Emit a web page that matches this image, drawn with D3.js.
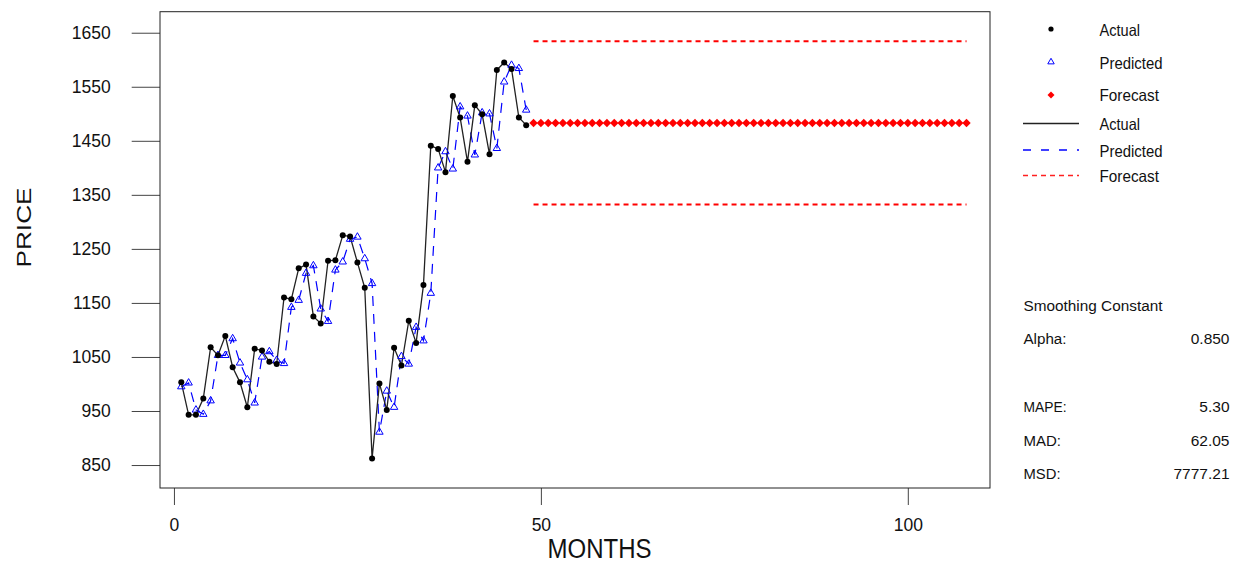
<!DOCTYPE html>
<html>
<head>
<meta charset="utf-8">
<script src="https://cdn.jsdelivr.net/npm/d3@7"></script>
<style>
  html, body { margin: 0; padding: 0; background: #fff; }
  svg { display: block; font-family: "Liberation Sans", Arial, sans-serif; }
</style>
</head>
<body>
<svg id="chart" width="1243" height="564"></svg>
<script>
// Monthly prices (months 1..48)
const actual = [1003, 943, 943, 973, 1068, 1053, 1089, 1031, 1003, 957,
                1065, 1062, 1041, 1037, 1160, 1157, 1214, 1221, 1125, 1112,
                1228, 1229, 1275, 1273, 1225, 1178, 862, 1001, 952, 1067,
                1034, 1117, 1076, 1183, 1441, 1435, 1392, 1533, 1493, 1411,
                1516, 1499, 1425, 1581, 1595, 1583, 1493, 1479];
// Single exponential smoothing fits (months 1..48)
const predicted = [995, 1002, 952, 944, 969, 1053, 1053, 1084, 1039, 1008,
                   965, 1050, 1060, 1044, 1038, 1142, 1155, 1205, 1219, 1139,
                   1116, 1211, 1226, 1268, 1272, 1232, 1186, 911, 987, 957,
                   1051, 1037, 1105, 1080, 1168, 1400, 1430, 1398, 1513, 1496,
                   1424, 1502, 1500, 1436, 1559, 1590, 1584, 1507];
// Forecast horizon and prediction limits
const forecastMonths = [49, 108];
const forecastValue = 1483;
const upperLimit = 1634;
const lowerLimit = 1332;

const yTicks = [850, 950, 1050, 1150, 1250, 1350, 1450, 1550, 1650];
const xTicks = [0, 50, 100];

const legendMarkers = ["Actual", "Predicted", "Forecast"];
const legendLines = ["Actual", "Predicted", "Forecast"];
const statLabels = ["Alpha:", "MAPE:", "MAD:", "MSD:"];
const statValues = ["0.850", "5.30", "62.05", "7777.21"];

const svg = d3.select("#chart");
const frame = { left: 160, right: 990, top: 11.7, bottom: 488 };

const x = d3.scaleLinear().domain([-1.9, 111.2]).range([frame.left, frame.right]);
const y = d3.scaleLinear().domain([807.5, 1688.9]).range([frame.bottom, frame.top]);

const actualPts = actual.map((v, i) => ({ t: i + 1, v }));
const predPts = predicted.map((v, i) => ({ t: i + 1, v }));
const fcPts = d3.range(forecastMonths[0], forecastMonths[1] + 1).map(t => ({ t, v: forecastValue }));

// Axes
const yAxis = d3.axisLeft(y).tickValues(yTicks).tickSize(28.3).tickPadding(21).tickFormat(d3.format("d"));
const gy = svg.append("g").attr("transform", `translate(${frame.left},0)`).call(yAxis);
gy.select(".domain").remove();
gy.selectAll(".tick line").attr("stroke", "#444");
gy.selectAll(".tick text").attr("font-size", 17.5).attr("fill", "#111")
  .attr("font-family", "Liberation Sans, Arial, sans-serif");

const xAxis = d3.axisBottom(x).tickValues(xTicks).tickSize(17).tickPadding(14).tickFormat(d3.format("d"));
const gx = svg.append("g").attr("transform", `translate(0,${frame.bottom})`).call(xAxis);
gx.select(".domain").remove();
gx.selectAll(".tick line").attr("stroke", "#444");
gx.selectAll(".tick text").attr("font-size", 17.5).attr("fill", "#111")
  .attr("font-family", "Liberation Sans, Arial, sans-serif");

// Plot frame
svg.append("rect")
  .attr("x", frame.left).attr("y", frame.top)
  .attr("width", frame.right - frame.left).attr("height", frame.bottom - frame.top)
  .attr("fill", "none").attr("stroke", "#222").attr("stroke-width", 1);

// Axis titles
svg.append("text").attr("transform", "translate(31,227.5) rotate(-90)")
  .attr("text-anchor", "middle").attr("font-size", 21).attr("fill", "#111")
  .attr("textLength", 80).attr("lengthAdjust", "spacingAndGlyphs").text("PRICE");
svg.append("text").attr("x", 599.5).attr("y", 558)
  .attr("text-anchor", "middle").attr("font-size", 27).attr("fill", "#111")
  .attr("textLength", 104).attr("lengthAdjust", "spacingAndGlyphs").text("MONTHS");

const line = d3.line().x(d => x(d.t)).y(d => y(d.v));

// Prediction limits
[upperLimit, lowerLimit].forEach(v => {
  svg.append("path")
    .attr("d", line([{ t: forecastMonths[0], v }, { t: forecastMonths[1], v }]))
    .attr("stroke", "#ff0000").attr("stroke-width", 2).attr("stroke-dasharray", "5,4").attr("fill", "none");
});

// Predicted line and markers
svg.append("path").attr("d", line(predPts))
  .attr("stroke", "#0000ff").attr("stroke-width", 1.2).attr("stroke-dasharray", "10,8").attr("fill", "none");

// Actual line
svg.append("path").attr("d", line(actualPts))
  .attr("stroke", "#222").attr("stroke-width", 1.3).attr("fill", "none");

const tri = d3.symbol().type(d3.symbolTriangle).size(24);
svg.append("g").selectAll("path").data(predPts).join("path")
  .attr("d", tri).attr("transform", d => `translate(${x(d.t)},${y(d.v)})`)
  .attr("fill", "none").attr("stroke", "#0000ff").attr("stroke-width", 1);

svg.append("g").selectAll("circle").data(actualPts).join("circle")
  .attr("cx", d => x(d.t)).attr("cy", d => y(d.v)).attr("r", 3).attr("fill", "#000");

const diamond = "M0,-4.2L4.2,0L0,4.2L-4.2,0Z";
svg.append("g").selectAll("path").data(fcPts).join("path")
  .attr("d", diamond).attr("transform", d => `translate(${x(d.t)},${y(d.v)})`)
  .attr("fill", "#ff0000");

// Legend
const lg = svg.append("g");
const legendMarkerY = [29, 62, 95];
const legendMarkerBase = [35.5, 69, 101];
const legendTextW = [40.5, 63, 59.5];
legendMarkers.forEach((name, i) => {
  const cy = legendMarkerY[i];
  if (i === 0) lg.append("circle").attr("cx", 1051).attr("cy", cy).attr("r", 2.6).attr("fill", "#000");
  if (i === 1) lg.append("path").attr("d", d3.symbol().type(d3.symbolTriangle).size(18))
    .attr("transform", `translate(1051,${cy})`).attr("fill", "none").attr("stroke", "#0000ff").attr("stroke-width", 1);
  if (i === 2) lg.append("path").attr("d", "M0,-3.5L3.5,0L0,3.5L-3.5,0Z")
    .attr("transform", `translate(1051,${cy})`).attr("fill", "#ff0000");
  lg.append("text").attr("x", 1099.5).attr("y", legendMarkerBase[i])
    .attr("font-size", 16.5).attr("fill", "#111")
    .attr("textLength", legendTextW[i]).attr("lengthAdjust", "spacingAndGlyphs").text(name);
});
const legendLineY = [123.5, 150, 175.5];
const legendLineBase = [130, 156.5, 181.5];
const legendLineStyle = [
  { stroke: "#222", dash: null, w: 1.3 },
  { stroke: "#0000ff", dash: "8,10", w: 1.3 },
  { stroke: "#ff2020", dash: "5,4", w: 1.6 }
];
legendLines.forEach((name, i) => {
  const s = legendLineStyle[i];
  lg.append("line").attr("x1", 1023).attr("x2", 1079).attr("y1", legendLineY[i]).attr("y2", legendLineY[i])
    .attr("stroke", s.stroke).attr("stroke-width", s.w).attr("stroke-dasharray", s.dash);
  lg.append("text").attr("x", 1099.5).attr("y", legendLineBase[i])
    .attr("font-size", 16.5).attr("fill", "#111")
    .attr("textLength", legendTextW[i]).attr("lengthAdjust", "spacingAndGlyphs").text(name);
});

// Smoothing statistics
const st = svg.append("g").attr("font-size", 15.5).attr("fill", "#111");
st.append("text").attr("x", 1023.5).attr("y", 310.5)
  .attr("textLength", 139).attr("lengthAdjust", "spacingAndGlyphs").text("Smoothing Constant");
const statBase = [344, 411.5, 446, 479];
const statLabelW = [43, 43, 37.5, 37];
statLabels.forEach((lab, i) => {
  st.append("text").attr("x", 1023.5).attr("y", statBase[i])
    .attr("textLength", statLabelW[i]).attr("lengthAdjust", "spacingAndGlyphs").text(lab);
  st.append("text").attr("x", 1229.5).attr("y", statBase[i]).attr("text-anchor", "end")
    .text(statValues[i]);
});
</script>
</body>
</html>
